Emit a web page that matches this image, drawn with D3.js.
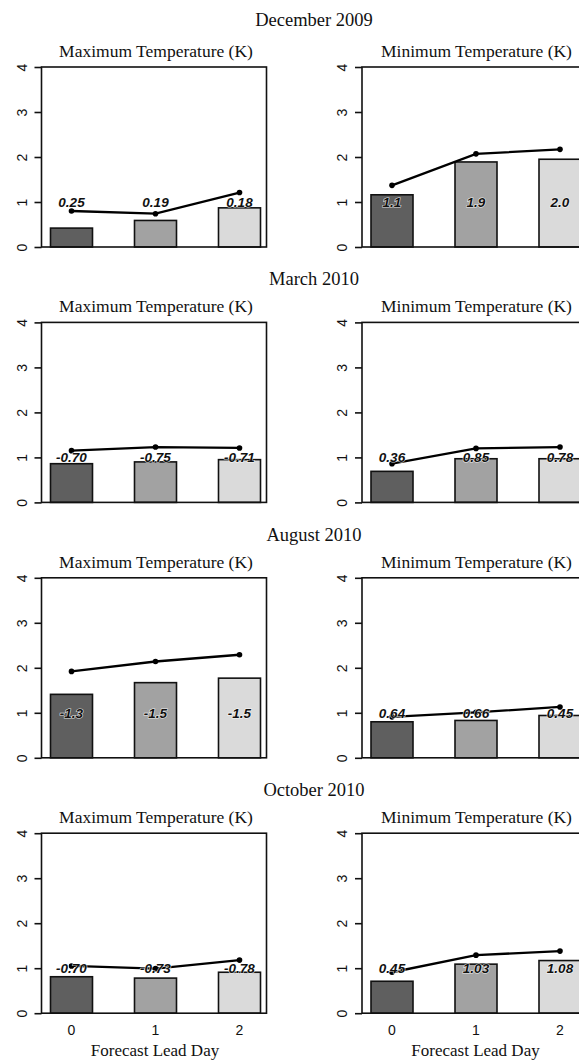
<!DOCTYPE html>
<html>
<head>
<meta charset="utf-8">
<script src="https://cdn.jsdelivr.net/npm/d3@7"></script>
<style>
  html, body { margin: 0; padding: 0; background: #fff; }
  svg { display: block; }
</style>
</head>
<body>
<svg id="chart" width="579" height="1060"></svg>
<script>
// Forecast verification by month: bars, line and bias labels per lead day
const months = ["December 2009", "March 2010", "August 2010", "October 2010"];
const leadDays = [0, 1, 2];
const panelTitles = ["Maximum Temperature (K)", "Minimum Temperature (K)"];
const yTicks = [0, 1, 2, 3, 4];

// Maximum temperature
const tmaxBars = [
  [0.42, 0.59, 0.87],
  [0.86, 0.90, 0.95],
  [1.41, 1.67, 1.77],
  [0.81, 0.78, 0.91]
];
const tmaxLine = [
  [0.80, 0.74, 1.21],
  [1.15, 1.23, 1.21],
  [1.92, 2.14, 2.29],
  [1.05, 0.99, 1.18]
];
const tmaxLabels = [
  ["0.25", "0.19", "0.18"],
  ["-0.70", "-0.75", "-0.71"],
  ["-1.3", "-1.5", "-1.5"],
  ["-0.70", "-0.73", "-0.78"]
];

// Minimum temperature
const tminBars = [
  [1.16, 1.89, 1.95],
  [0.69, 0.97, 0.97],
  [0.80, 0.83, 0.94],
  [0.71, 1.09, 1.17]
];
const tminLine = [
  [1.37, 2.07, 2.17],
  [0.86, 1.20, 1.23],
  [0.91, 1.01, 1.13],
  [0.91, 1.29, 1.38]
];
const tminLabels = [
  ["1.1", "1.9", "2.0"],
  ["0.36", "0.85", "0.78"],
  ["0.64", "0.66", "0.45"],
  ["0.45", "1.03", "1.08"]
];

const barColors = ["#5f5f5f", "#a2a2a2", "#dadada"];
const labelLevel = 1;

// Layout
const serif = "'Liberation Serif', 'Times New Roman', serif";
const sans = "'Liberation Sans', Arial, Helvetica, sans-serif";
const plotW = 225, plotH = 180;
const colX = [41.5, 362];
const rowTop = i => 67 + i * 255.4;

const svg = d3.select("#chart");
svg.append("rect").attr("width", 579).attr("height", 1060).attr("fill", "#fff");

months.forEach((month, r) => {
  const top = rowTop(r);
  svg.append("text")
    .attr("x", 314).attr("y", top - (r === 0 ? 41 : 37))
    .attr("text-anchor", "middle")
    .style("font-family", serif).style("font-size", "18.5px")
    .attr("fill", "#111")
    .text(month);

  const panels = [
    { bars: tmaxBars[r], line: tmaxLine[r], labels: tmaxLabels[r] },
    { bars: tminBars[r], line: tminLine[r], labels: tminLabels[r] }
  ];

  panels.forEach((p, c) => {
    const x0 = colX[c];
    const g = svg.append("g");

    const y = d3.scaleLinear().domain([0, 4]).range([top + plotH, top]);
    const x = d3.scaleBand().domain(leadDays)
      .range([x0 + 9, x0 + 219]).paddingInner(0.5).paddingOuter(0);
    const cx = d => x(d) + x.bandwidth() / 2;

    // panel title
    g.append("text")
      .attr("x", x0 + plotW / 2 + 2).attr("y", top - 10)
      .attr("text-anchor", "middle")
      .style("font-family", serif).style("font-size", "17.5px")
      .attr("fill", "#111")
      .text(panelTitles[c]);

    // bars
    g.selectAll("rect.bar").data(leadDays).join("rect")
      .attr("class", "bar")
      .attr("x", d => x(d))
      .attr("width", x.bandwidth())
      .attr("y", (d, i) => y(p.bars[i]))
      .attr("height", (d, i) => y(0) - y(p.bars[i]))
      .attr("fill", (d, i) => barColors[i])
      .attr("stroke", "#111").attr("stroke-width", 1.6);

    // line with points
    const lineGen = d3.line().x((d, i) => cx(leadDays[i])).y(d => y(d));
    g.append("path").datum(p.line)
      .attr("d", lineGen)
      .attr("fill", "none").attr("stroke", "#000").attr("stroke-width", 2.3);
    g.selectAll("circle").data(p.line).join("circle")
      .attr("cx", (d, i) => cx(leadDays[i]))
      .attr("cy", d => y(d))
      .attr("r", 2.8).attr("fill", "#000");

    // value labels
    g.selectAll("text.lab").data(p.labels).join("text")
      .attr("class", "lab")
      .attr("x", (d, i) => cx(leadDays[i]))
      .attr("y", y(labelLevel))
      .attr("dy", "0.36em")
      .attr("text-anchor", "middle")
      .style("font-family", sans).style("font-size", "13.5px")
      .style("font-weight", "bold").style("font-style", "italic")
      .attr("fill", "#111")
      .attr("stroke", "#fff").attr("stroke-width", 1.2)
      .attr("stroke-opacity", 0.8)
      .attr("paint-order", "stroke")
      .text(d => d);

    // box
    g.append("rect")
      .attr("x", x0).attr("y", top)
      .attr("width", plotW).attr("height", plotH)
      .attr("fill", "none").attr("stroke", "#111").attr("stroke-width", 1.6);

    // y axis
    const yAxis = d3.axisLeft(y).tickValues(yTicks).tickSize(7).tickPadding(0)
      .tickFormat(d3.format("d"));
    const ya = g.append("g").attr("transform", `translate(${x0},0)`).call(yAxis);
    ya.attr("font-size", null).attr("font-family", null);
    ya.select(".domain").remove();
    ya.selectAll(".tick line").attr("stroke", "#111").attr("stroke-width", 1.6);
    ya.selectAll(".tick text")
      .attr("x", null).attr("dy", null)
      .attr("transform", "translate(-20,0) rotate(-90)")
      .attr("text-anchor", "middle")
      .attr("dominant-baseline", "central")
      .style("font-family", sans).style("font-size", "14px")
      .attr("fill", "#111");

    // x axis on bottom row
    if (r === months.length - 1) {
      const xAxis = d3.axisBottom(x).tickSize(0).tickPadding(12);
      const xa = g.append("g").attr("transform", `translate(0,${top + plotH})`).call(xAxis);
      xa.attr("font-size", null).attr("font-family", null);
      xa.select(".domain").remove();
      xa.selectAll(".tick text")
        .style("font-family", sans).style("font-size", "14px")
        .attr("fill", "#111");
      g.append("text")
        .attr("x", x0 + plotW / 2 + 1).attr("y", top + plotH + 43)
        .attr("text-anchor", "middle")
        .style("font-family", serif).style("font-size", "17px")
        .attr("fill", "#111")
        .text("Forecast Lead Day");
    }
  });
});
</script>
</body>
</html>
